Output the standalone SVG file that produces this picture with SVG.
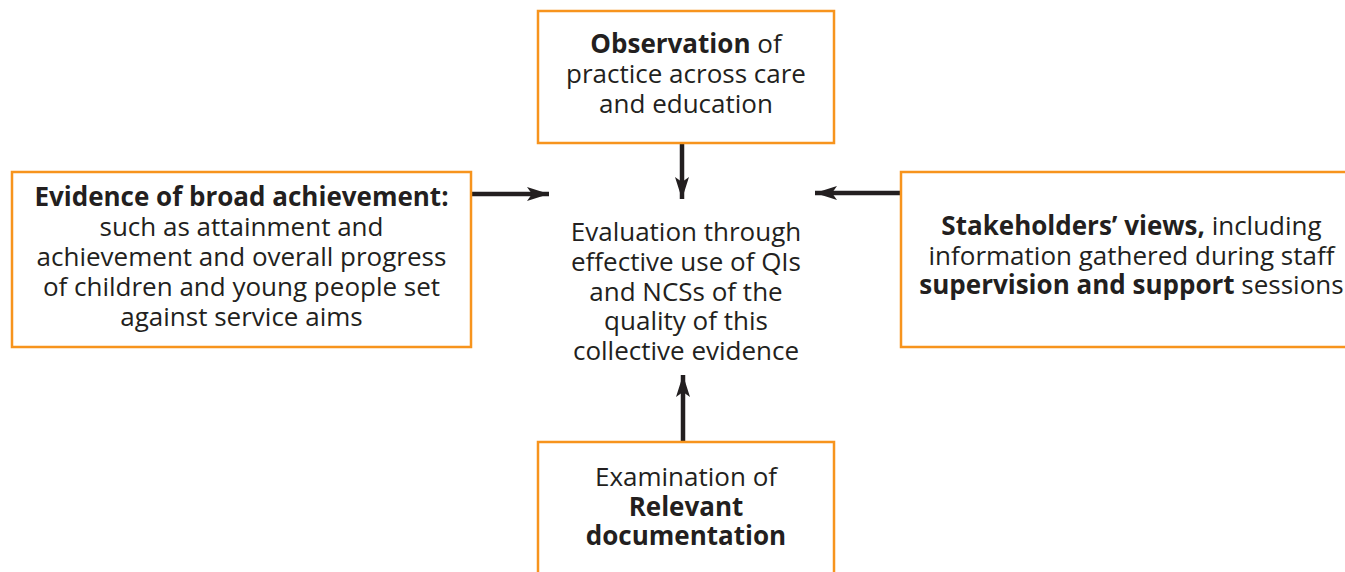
<svg xmlns="http://www.w3.org/2000/svg" width="1345" height="572" viewBox="0 0 1345 572">
<style>
.box{fill:#fff;stroke:#F7941D;stroke-width:2.5}
text{font-family:"Open Sans","Noto Sans","DejaVu Sans",sans-serif;font-size:26px;fill:#231F20;text-anchor:middle}
.b{font-weight:700}
.conn{stroke:#231F20;stroke-width:4.5;fill:none}
</style>
<defs>
<marker id="ah" markerUnits="userSpaceOnUse" markerWidth="24" markerHeight="14" refX="22" refY="7" orient="auto">
<path d="M0,0 L22,7 L0,14 L5,7 Z" fill="#231F20"/>
</marker>
</defs>
<rect width="1345" height="572" fill="#fff"/>
<g id="connectors">
<line class="conn" x1="682" y1="143" x2="682" y2="199" marker-end="url(#ah)"/>
<line class="conn" x1="683" y1="442" x2="683" y2="375" marker-end="url(#ah)"/>
<line class="conn" x1="471" y1="194" x2="549" y2="194" marker-end="url(#ah)"/>
<line class="conn" x1="901" y1="193" x2="815" y2="193" marker-end="url(#ah)"/>
</g>
<g id="observation">
<rect class="box" x="538" y="11" width="296" height="132"/>
<text><tspan x="686" y="53"><tspan class="b">Observation</tspan> of</tspan><tspan x="686" y="83">practice across care</tspan><tspan x="686" y="113">and education</tspan></text>
</g>
<g id="evidence">
<rect class="box" x="12" y="172" width="459" height="175"/>
<text><tspan x="241.5" y="206" class="b">Evidence of broad achievement:</tspan><tspan x="241.5" y="236">such as attainment and</tspan><tspan x="241.5" y="266">achievement and overall progress</tspan><tspan x="241.5" y="296">of children and young people set</tspan><tspan x="241.5" y="326">against service aims</tspan></text>
</g>
<g id="evaluation">
<text><tspan x="686" y="241">Evaluation through</tspan><tspan x="686" y="271">effective use of QIs</tspan><tspan x="686" y="301">and NCSs of the</tspan><tspan x="686" y="330">quality of this</tspan><tspan x="686" y="360">collective evidence</tspan></text>
</g>
<g id="stakeholders">
<rect class="box" x="901" y="172" width="461" height="175"/>
<text><tspan x="1131.5" y="235"><tspan class="b">Stakeholders’ views,</tspan> including</tspan><tspan x="1131.5" y="265">information gathered during staff</tspan><tspan x="1131.5" y="294"><tspan class="b">supervision and support</tspan> sessions</tspan></text>
</g>
<g id="documentation">
<rect class="box" x="538" y="442" width="296" height="140"/>
<text><tspan x="686" y="486">Examination of</tspan><tspan x="686" y="516" class="b">Relevant</tspan><tspan x="686" y="545" class="b">documentation</tspan></text>
</g>
</svg>
